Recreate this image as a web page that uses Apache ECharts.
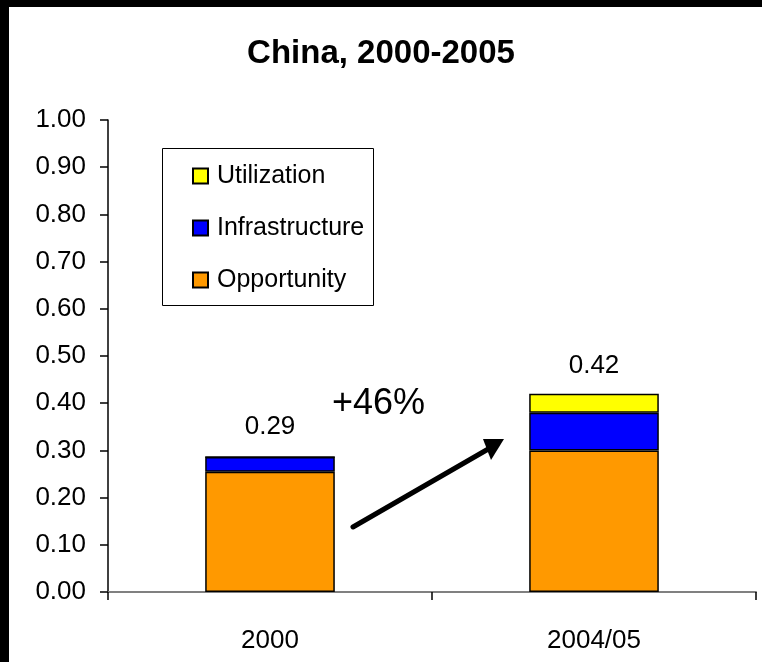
<!DOCTYPE html>
<html>
<head>
<meta charset="utf-8">
<script src="https://cdn.jsdelivr.net/npm/echarts@6/dist/echarts.min.js"></script>
<style>
html,body{margin:0;padding:0;background:#fff;}
#chart{width:762px;height:662px;}
</style>
</head>
<body>
<div id="chart"></div>
<script>
const categories = ['2000', '2004/05'];
const opportunity = [0.255, 0.30];
const infrastructure = [0.031, 0.08];
const utilization = [0, 0.04];
const totals = [0.29, 0.42];
const yTicks = [0, 0.1, 0.2, 0.3, 0.4, 0.5, 0.6, 0.7, 0.8, 0.9, 1.0];
const titleText = 'China, 2000-2005';
const changeText = '+46%';

const font = '"Liberation Sans", Arial, sans-serif';
const chart = echarts.init(document.getElementById('chart'), null, {renderer: 'canvas'});

const barBorder = {borderColor: '#000', borderWidth: 1.5};

chart.setOption({
  backgroundColor: '#fff',
  animation: false,
  title: {
    text: titleText,
    left: 'center',
    top: 32,
    textStyle: {fontFamily: font, fontWeight: 'bold', fontSize: 33, color: '#000'}
  },
  grid: {left: 108, right: 6, top: 120, bottom: 70},
  legend: {
    data: ['Utilization', 'Infrastructure', 'Opportunity'],
    orient: 'vertical',
    left: 187,
    top: 157,
    itemWidth: 15,
    itemHeight: 15,
    itemGap: 24,
    icon: 'rect',
    textStyle: {fontFamily: font, fontSize: 25, color: '#000', lineHeight: 28, padding: [0, 0, 0, 4]}
  },
  xAxis: {
    type: 'category',
    data: categories,
    axisLine: {lineStyle: {color: '#808080', width: 2}},
    axisTick: {show: true, length: 8, lineStyle: {color: '#000', width: 1.5}},
    axisLabel: {fontFamily: font, fontSize: 26, color: '#000', margin: 36}
  },
  yAxis: {
    type: 'value',
    min: yTicks[0],
    max: yTicks[yTicks.length - 1],
    interval: 0.1,
    axisLine: {show: true, lineStyle: {color: '#000', width: 1.5}},
    axisTick: {show: true, length: 8, lineStyle: {color: '#000', width: 1.5}},
    splitLine: {show: false},
    axisLabel: {fontFamily: font, fontSize: 26, color: '#000', margin: 22,
      formatter: v => v.toFixed(2)}
  },
  series: [
    {name: 'Opportunity', type: 'bar', stack: 's', data: opportunity, barWidth: '40%',
      itemStyle: Object.assign({color: '#FF9900'}, barBorder)},
    {name: 'Infrastructure', type: 'bar', stack: 's', data: infrastructure,
      itemStyle: Object.assign({color: '#0000FF'}, barBorder)},
    {name: 'Utilization', type: 'bar', stack: 's', data: utilization,
      itemStyle: Object.assign({color: '#FFFF00'}, barBorder)},
    {name: 'Total', type: 'scatter', data: totals, symbolSize: 0, silent: true,
      itemStyle: {opacity: 1},
      label: {show: true, position: 'top', distance: 15, opacity: 1,
        formatter: p => p.value.toFixed(2),
        fontFamily: font, fontSize: 26, color: '#000'}}
  ],
  graphic: [
    {type: 'rect', shape: {x: 0, y: 0, width: 762, height: 7}, style: {fill: '#000'}, z: 100},
    {type: 'rect', shape: {x: 0, y: 0, width: 9, height: 662}, style: {fill: '#000'}, z: 100},
    {type: 'rect', shape: {x: 162.5, y: 148.5, width: 211, height: 157},
      style: {fill: 'none', stroke: '#000', lineWidth: 1}, z: 50},
    {type: 'text', left: 332, top: 386,
      style: {text: changeText, font: '36px "Liberation Sans", Arial, sans-serif', fill: '#000'}},
    {type: 'line', shape: {x1: 353, y1: 527, x2: 490, y2: 448},
      style: {stroke: '#000', lineWidth: 5, lineCap: 'round'}},
    {type: 'polygon', shape: {points: [[504, 439], [483, 439], [491, 460]]},
      style: {fill: '#000'}}
  ]
});
</script>
</body>
</html>
